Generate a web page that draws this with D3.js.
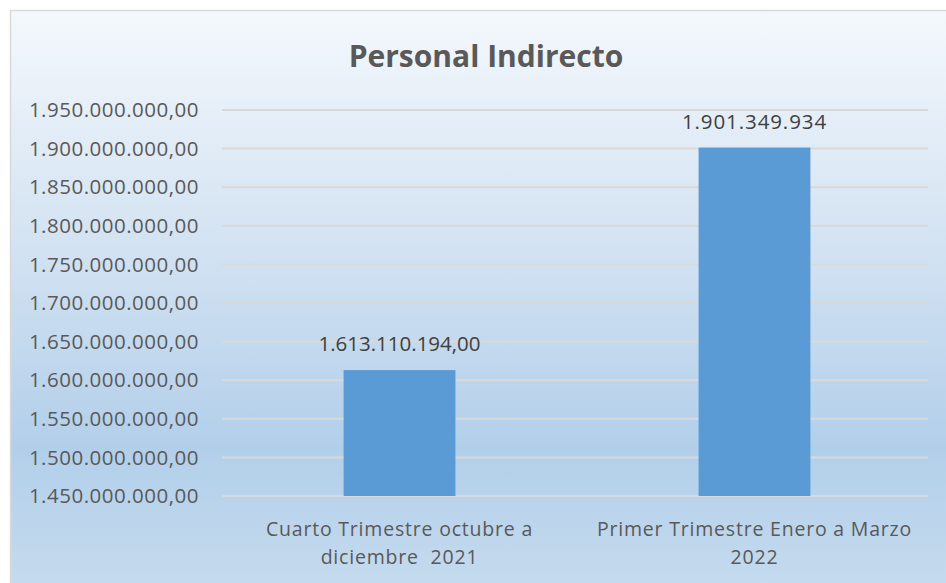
<!DOCTYPE html>
<html>
<head>
<meta charset="utf-8">
<script src="https://cdn.jsdelivr.net/npm/d3@7"></script>
<style>
  html, body { margin: 0; padding: 0; background: #fff; }
</style>
</head>
<body>
<div id="chart-container"></div>
<script>
const categories = [
    ["Cuarto Trimestre octubre a", "diciembre  2021"],
    ["Primer Trimestre Enero a Marzo", "2022"]
];
const values = [1613110194, 1901349934];
const valueLabels = ["1.613.110.194,00", "1.901.349.934"];
const tickValues = [1450e6, 1500e6, 1550e6, 1600e6, 1650e6, 1700e6, 1750e6, 1800e6, 1850e6, 1900e6, 1950e6];

const width = 946;
const height = 583;
const margin = { top: 110, right: 14, bottom: 87, left: 222 };

const svg = d3.select("#chart-container")
    .append("svg")
    .attr("width", width)
    .attr("height", height)
    .style("display", "block");

const defs = svg.append("defs");
const grad = defs.append("linearGradient")
    .attr("id", "bg")
    .attr("x1", 0).attr("y1", 0).attr("x2", 0).attr("y2", 1);
grad.append("stop").attr("offset", "0%").attr("stop-color", "#f4f8fc");
grad.append("stop").attr("offset", "45%").attr("stop-color", "#cfe0f1");
grad.append("stop").attr("offset", "75%").attr("stop-color", "#b2cfea");
grad.append("stop").attr("offset", "100%").attr("stop-color", "#c6dbee");

// chart area
svg.append("rect")
    .attr("x", 10.5)
    .attr("y", 10.5)
    .attr("width", width)
    .attr("height", height)
    .attr("fill", "url(#bg)")
    .attr("stroke", "#d9d9d9")
    .attr("stroke-width", 1.5);

const x = d3.scaleBand()
    .domain(d3.range(categories.length))
    .range([margin.left, width - margin.right])
    .paddingInner(0.685)
    .paddingOuter(0.3425);

const y = d3.scaleLinear()
    .domain([1450e6, 1950e6])
    .range([height - margin.bottom, margin.top]);

// gridlines
svg.append("g")
    .selectAll("line")
    .data(tickValues)
    .enter()
    .append("line")
    .attr("x1", margin.left)
    .attr("x2", width - 18)
    .attr("y1", d => y(d))
    .attr("y2", d => y(d))
    .attr("stroke", "#d9d9d9")
    .attr("stroke-width", 2);

const fmt = d3.formatLocale({ decimal: ",", thousands: ".", grouping: [3], currency: ["", ""] }).format(",.2f");

// y axis labels
svg.append("g")
    .selectAll("text")
    .data(tickValues)
    .enter()
    .append("text")
    .attr("x", 199)
    .attr("y", d => y(d))
    .attr("dy", "0.35em")
    .attr("text-anchor", "end")
    .attr("fill", "#595959")
    .style("font", "20.5px 'Open Sans', sans-serif")
    .style("letter-spacing", "0.5px")
    .text(d => fmt(d));

// bars
svg.append("g")
    .selectAll("rect")
    .data(values)
    .enter()
    .append("rect")
    .attr("x", (d, i) => x(i))
    .attr("y", d => y(d))
    .attr("width", x.bandwidth())
    .attr("height", d => y(1450e6) - y(d))
    .attr("fill", "#5b9bd5");

// data labels
svg.append("g")
    .selectAll("text")
    .data(values)
    .enter()
    .append("text")
    .attr("x", (d, i) => x(i) + x.bandwidth() / 2)
    .attr("y", d => y(d) - 19)
    .attr("text-anchor", "middle")
    .attr("fill", "#404040")
    .style("font", "20.5px 'Open Sans', sans-serif")
    .style("letter-spacing", (d, i) => i === 0 ? "0px" : "0.9px")
    .text((d, i) => valueLabels[i]);

// category labels
const catG = svg.append("g")
    .selectAll("text")
    .data(categories)
    .enter()
    .append("text")
    .attr("x", (d, i) => x(i) + x.bandwidth() / 2)
    .attr("y", 536)
    .attr("text-anchor", "middle")
    .attr("fill", "#595959")
    .style("font", "19.5px 'Open Sans', sans-serif")
    .style("letter-spacing", "0.8px");

catG.selectAll("tspan")
    .data(d => d)
    .enter()
    .append("tspan")
    .attr("x", function () { return d3.select(this.parentNode).attr("x"); })
    .attr("dy", (d, i) => i === 0 ? 0 : 28)
    .style("white-space", "pre")
    .text(d => d);

// title
svg.append("text")
    .attr("x", 486)
    .attr("y", 67)
    .attr("text-anchor", "middle")
    .attr("fill", "#595959")
    .style("font", "bold 30px 'Open Sans', sans-serif")
    .text("Personal Indirecto");
</script>
</body>
</html>
